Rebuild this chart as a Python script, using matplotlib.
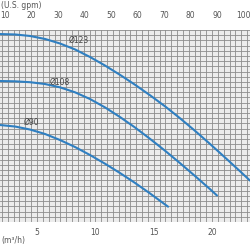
import matplotlib
matplotlib.use('Agg')
import matplotlib.pyplot as plt
import numpy as np

# flow (m3/h) and head for each impeller diameter
q_123 = [1.83, 3.12, 4.40, 5.69, 6.97, 8.26, 9.54, 10.83, 12.11, 13.40,
         14.68, 15.97, 17.25, 18.54, 19.83, 21.11, 22.40, 23.25]
h_123 = [36.22, 36.14, 35.85, 35.27, 34.40, 33.25, 31.80, 30.15, 28.36, 26.45,
         24.43, 22.29, 20.00, 17.57, 15.03, 12.43, 9.77, 7.98]

q_108 = [1.83, 3.12, 4.40, 5.69, 6.97, 8.26, 9.54, 10.83, 12.11, 13.40,
         14.68, 15.97, 17.25, 18.54, 19.83, 20.42]
h_108 = [27.17, 27.11, 26.94, 26.59, 25.95, 24.99, 23.70, 22.08, 20.23, 18.21,
         16.03, 13.74, 11.35, 8.86, 6.32, 5.11]

q_90 = [1.83, 3.12, 4.40, 5.69, 6.97, 8.26, 9.54, 10.83, 12.11, 13.40,
        14.68, 16.23]
h_90 = [18.69, 18.40, 17.82, 16.96, 15.80, 14.45, 12.91, 11.23, 9.44, 7.53,
        5.51, 2.95]

curve_labels = ['Ø123', 'Ø108', 'Ø90']
label_pos = [(8.6, 35.1), (6.97, 27.0), (4.49, 19.3)]

m3h_ticks = [5, 10, 15, 20]
gpm_ticks = [10, 20, 30, 40, 50, 60, 70, 80, 90, 100]
GPM_TO_M3H = 0.2271

fig = plt.figure(figsize=(2.5, 2.5), dpi=100)
ax = fig.add_axes([0, 0.112, 1, 0.768])
ax.set_facecolor('#ececec')

ax.set_xlim(1.83, 23.25)
ax.set_ylim(0, 37)
ax.set_xticks(np.arange(2, 23.5, 0.5), minor=True)
ax.set_yticks(np.arange(0, 38, 1), minor=True)
ax.set_xticks(m3h_ticks)
ax.set_yticks([])
ax.grid(True, which='both', color='#8c8c8c', linewidth=0.6)
ax.set_axisbelow(True)
for s in ax.spines.values():
    s.set_visible(False)
ax.tick_params(which='both', length=0)
ax.tick_params(axis='x', labelsize=5.5, labelcolor='#555555', pad=4)

line_color = '#2f7fc1'
for q, h in [(q_123, h_123), (q_108, h_108), (q_90, h_90)]:
    ax.plot(q, h, color=line_color, linewidth=1.5, solid_capstyle='round',
            solid_joinstyle='round')

for txt, (x, y) in zip(curve_labels, label_pos):
    ax.text(x, y, txt, fontsize=5.5, color='#444444', ha='center', va='center')

sec = ax.secondary_xaxis('top', functions=(lambda x: x / GPM_TO_M3H,
                                           lambda x: x * GPM_TO_M3H))
sec.set_xticks(gpm_ticks)
sec.tick_params(length=0, labelsize=5.5, labelcolor='#555555', pad=7)
sec.spines['top'].set_visible(False)

fig.text(0.004, 0.98, '(U.S. gpm)', fontsize=5.5, color='#555555', va='center')
fig.text(0.004, 0.036, '(m³/h)', fontsize=5.5, color='#555555', va='center')

fig.savefig('out.png', dpi=100)
